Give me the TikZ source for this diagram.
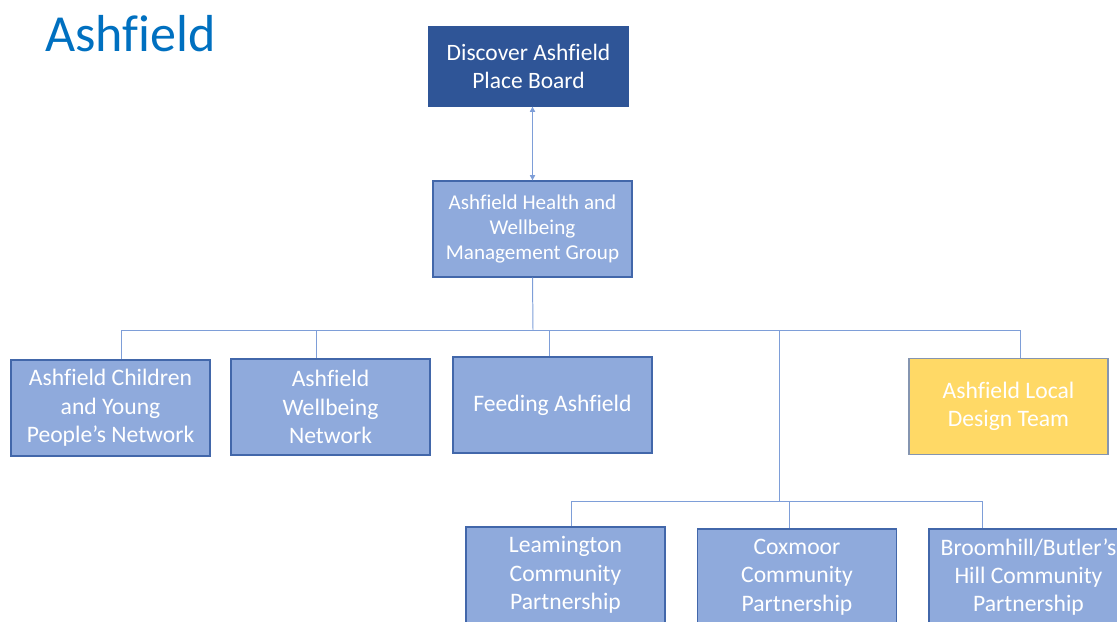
\documentclass[tikz,border=0pt]{standalone}
\usepackage{fontspec}
\setmainfont{Carlito}[Ligatures=NoCommon]
\usepackage{xcolor}
\usetikzlibrary{arrows.meta}
\definecolor{titleblue}{HTML}{0070C0}
\definecolor{boarddark}{HTML}{2F5597}
\definecolor{boxfill}{HTML}{8FAADC}
\definecolor{boxline}{HTML}{4267AA}
\definecolor{linkblue}{HTML}{7E9ED8}
\definecolor{designfill}{HTML}{FFD966}
\definecolor{designline}{HTML}{8595B0}
\tikzset{
    groupbox/.style={
        draw=boxline, fill=boxfill, line width=0.9pt,
        minimum width=4.975cm, minimum height=2.4cm, inner sep=0pt,
        text=white, font=\fontsize{16.8}{20.2}\selectfont, align=center
    },
    groupboxsmall/.style={
        groupbox, font=\fontsize{15}{17.7}\selectfont
    },
    boardbox/.style={
        groupbox, draw=boarddark, fill=boarddark,
        minimum height=1.975cm, font=\fontsize{16.7}{19.9}\selectfont
    },
    designbox/.style={
        groupbox, draw=designline, fill=designfill
    },
    link/.style={draw=linkblue, line width=0.7pt},
    duallink/.style={link, {Triangle[length=1.3mm,width=1.3mm]}-{Triangle[length=1.3mm,width=1.3mm]}},
}
\begin{document}
\begin{tikzpicture}[x=0.025cm, y=-0.025cm]
    \useasboundingbox (0,0) rectangle (1117,621);
    \clip (0,0) rectangle (1117,621);
    \node[anchor=base west, text=titleblue, font=\fontsize{37}{44}\selectfont, inner sep=0pt] (title) at (45,51) {Ashfield};
    % top of the structure
    \node[boardbox] (board) at (528.5,66.5) {Discover Ashfield\\Place Board};
    \node[groupboxsmall] (health) at (532.5,229) {Ashfield Health and\\Wellbeing\\Management Group};
    \draw[duallink] (health.north) -- (health.north |- board.south);
    % groups and networks
    \node[groupbox] (cyp) at (110.5,408) {Ashfield Children\\and Young\\People’s Network};
    \node[groupbox] (wellnet) at (330.5,407) {Ashfield\\Wellbeing\\Network};
    \node[groupbox] (feeding) at (552.5,405) {Feeding Ashfield};
    \node[designbox] (design) at (1008.5,406.5) {Ashfield Local\\Design Team};
    % community partnerships
    \node[groupbox] (leam) at (565.5,575) {Leamington\\Community\\Partnership};
    \node[groupbox] (cox) at (797,577) {Coxmoor\\Community\\Partnership};
    \node[groupbox] (broom) at (1028.5,577) {Broomhill/Butler’s\\Hill Community\\Partnership};
    \coordinate (bus) at (533,330);
    \coordinate (subbus) at (779,501);
    \draw[link] (health.south) -- (bus);
    \draw[link] (bus) -| ([xshift=0.2625cm]cyp.north);
    \draw[link] (bus) -| ([xshift=-0.3625cm]wellnet.north);
    \draw[link] (bus) -| ([xshift=-0.0875cm]feeding.north);
    \draw[link] (bus) -| ([xshift=0.2875cm]design.north);
    \draw[link] (bus) -| (subbus);
    \draw[link] (subbus) -| ([xshift=0.1375cm]leam.north);
    \draw[link] (subbus) -| ([xshift=-0.2cm]cox.north);
    \draw[link] (subbus) -| ([xshift=-1.1625cm]broom.north);
\end{tikzpicture}
\end{document}
